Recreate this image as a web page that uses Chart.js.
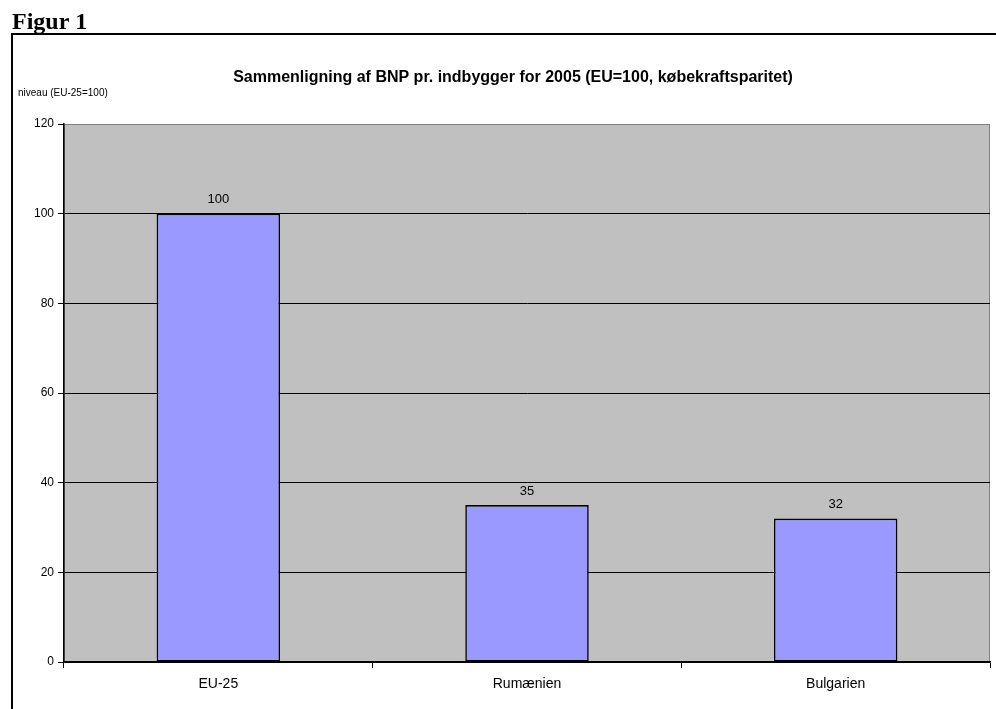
<!DOCTYPE html>
<html>
<head>
<meta charset="utf-8">
<script src="https://cdn.jsdelivr.net/npm/chart.js@4/dist/chart.umd.min.js"></script>
<style type="text/css">
    html, body { margin: 0; padding: 0; background: #fff; }
    #wrap { position: relative; width: 996px; height: 709px; }
</style>
</head>
<body>
<div id="wrap"><canvas id="barsChart" width="996" height="709"></canvas></div>

<script type="text/javascript">
const categories = ['EU-25', 'Rumænien', 'Bulgarien'];
const bnpValues = [100, 35, 32];
const yTicks = [0, 20, 40, 60, 80, 100, 120];

const chartTitle = 'Sammenligning af BNP pr. indbygger for 2005 (EU=100, købekraftsparitet)';
const axisNote = 'niveau (EU-25=100)';

// draws the gray plot background, the page frame and the loose texts
const decorations = {
    id: 'decorations',
    beforeDraw(chart) {
        const ctx = chart.ctx;
        const a = chart.chartArea;
        ctx.save();
        ctx.fillStyle = '#c0c0c0';
        ctx.fillRect(a.left, a.top, a.right - a.left, a.bottom - a.top);
        ctx.strokeStyle = '#808080';
        ctx.lineWidth = 1;
        ctx.strokeRect(a.left + 0.5, a.top + 0.5, a.right - a.left - 1, a.bottom - a.top);

        // frame
        ctx.fillStyle = '#000';
        ctx.fillRect(11, 33, 985, 2);
        ctx.fillRect(11, 33, 2, 676);

        ctx.textBaseline = 'alphabetic';
        ctx.font = 'bold 24px "Liberation Serif", "Times New Roman", serif';
        ctx.fillText('Figur 1', 12, 29);

        ctx.textAlign = 'center';
        ctx.textBaseline = 'middle';
        ctx.font = 'bold 16px "Liberation Sans", Arial, sans-serif';
        ctx.fillText(chartTitle, 513, 78);

        ctx.textAlign = 'left';
        ctx.font = '10px "Liberation Sans", Arial, sans-serif';
        ctx.fillText(axisNote, 18, 93);
        ctx.restore();
    },
    afterDatasetsDraw(chart) {
        const ctx = chart.ctx;
        const meta = chart.getDatasetMeta(0);
        ctx.save();
        ctx.fillStyle = '#000';
        ctx.font = '13px "Liberation Sans", Arial, sans-serif';
        ctx.textAlign = 'center';
        ctx.textBaseline = 'middle';
        meta.data.forEach(function (bar, i) {
            ctx.fillText(String(bnpValues[i]), bar.x, bar.y - 14);
        });
        ctx.restore();
    }
};

new Chart(document.getElementById('barsChart'), {
    type: 'bar',
    data: {
        labels: categories,
        datasets: [{
            data: bnpValues,
            backgroundColor: '#9999ff',
            borderColor: '#000',
            borderWidth: 1.6,
            borderSkipped: false,
            barPercentage: 0.4,
            categoryPercentage: 1
        }]
    },
    options: {
        responsive: false,
        animation: false,
        devicePixelRatio: 1,
        layout: { padding: { left: 0, right: 6, top: 124, bottom: 0 } },
        plugins: {
            legend: { display: false },
            title: { display: false },
            tooltip: { enabled: false }
        },
        scales: {
            x: {
                grid: {
                    offset: true,
                    drawOnChartArea: false,
                    color: '#000',
                    tickLength: 6
                },
                border: { color: '#000', width: 1.5 },
                ticks: {
                    color: '#000',
                    padding: 8,
                    font: { family: '"Liberation Sans", Arial, sans-serif', size: 14 }
                },
                afterFit: function (s) { s.height = 47; }
            },
            y: {
                min: 0,
                max: 120,
                afterBuildTicks: function (s) { s.ticks = yTicks.map(v => ({ value: v })); },
                grid: {
                    color: ctx => ctx.tick && ctx.tick.value === 120 ? '#808080' : '#000',
                    tickColor: '#000',
                    tickLength: 6
                },
                border: { color: '#000', width: 1.5 },
                ticks: {
                    color: '#000',
                    padding: 4,
                    font: { family: '"Liberation Sans", Arial, sans-serif', size: 12 }
                },
                afterFit: function (s) { s.width = 64; }
            }
        }
    },
    plugins: [decorations]
});
</script>
</body>
</html>
